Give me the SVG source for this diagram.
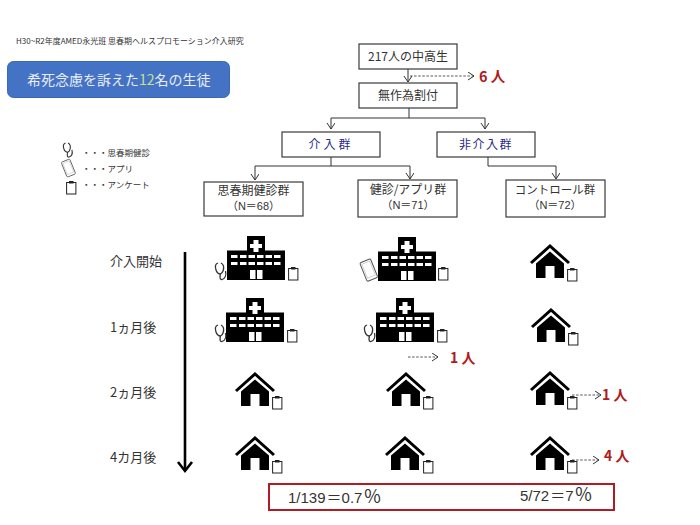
<svg xmlns="http://www.w3.org/2000/svg" width="700" height="525" viewBox="0 0 700 525">
<style>
text{font-family:"Noto Sans CJK JP","Liberation Sans",sans-serif;fill:#333}
.box{fill:#fff;stroke:#3a3a3a;stroke-width:1.2}
.l{font-size:12px;text-anchor:middle}
.m{font-size:11px;text-anchor:middle;font-family:"Liberation Sans","Noto Sans CJK JP",sans-serif}
.c{fill:none;stroke:#333;stroke-width:1}
.d{fill:none;stroke:#444;stroke-width:.9;stroke-dasharray:2.5 1.6}
.r{fill:#b01c1c;font-weight:bold;font-size:14px}
.t{font-size:13px}
.g{fill:#2a2a8a;font-size:12px;text-anchor:middle;letter-spacing:3px}
.s{font-size:8.500px}
.n{font-family:"Liberation Sans","Noto Sans CJK JP",sans-serif}
</style>
<defs>
<marker id="a" markerWidth="10" markerHeight="10" refX="7" refY="4" orient="auto" markerUnits="userSpaceOnUse"><path d="M1 0L7 4L1 8" fill="none" stroke="#333" stroke-width="1"/></marker>
<symbol id="hospital" overflow="visible"><path d="M0 14.500H20V0H38V14.500H58V44H0Z" fill="#000"/><path d="M26.500 4H31.500V8H35V12H31.500V16H26.500V12H23V8H26.500Z" fill="#fff"/>
<g fill="#fff"><rect x="4" y="19" width="6.500" height="3"/><rect x="13" y="19" width="6.500" height="3"/><rect x="21.500" y="19" width="6.500" height="3"/><rect x="30" y="19" width="6.500" height="3"/><rect x="38.500" y="19" width="6.500" height="3"/><rect x="47" y="19" width="6.500" height="3"/><rect x="4" y="26" width="6.500" height="3"/><rect x="13" y="26" width="6.500" height="3"/><rect x="21.500" y="26" width="6.500" height="3"/><rect x="30" y="26" width="6.500" height="3"/><rect x="38.500" y="26" width="6.500" height="3"/><rect x="47" y="26" width="6.500" height="3"/><rect x="23" y="34" width="5.500" height="9"/><rect x="30" y="34" width="5.500" height="9"/></g></symbol>
<symbol id="house" overflow="visible"><path d="M-19 18L0 1L19 18" fill="none" stroke="#000" stroke-width="3"/><path d="M0 6.500L14 18.500V33H4.500V21H-4.500V33H-14V18.500Z" fill="#000"/></symbol>
<symbol id="clip" overflow="visible"><rect x=".6" y="1.500" width="9.300" height="11.500" fill="#fff" stroke="#222" stroke-width="1"/><rect x="3" y="0" width="4.500" height="2.500" fill="#222"/></symbol>
<symbol id="steth" overflow="visible"><path d="M3 0C0 1 0 4 1 7C2 10 4 11 5.500 11C8 10 9 6 8.500 3C8 1 7 .5 6 0M5.500 11C4.500 14 5 17 7 16.500C10 15.500 11.500 12 10.500 8" fill="none" stroke="#333" stroke-width="1.300"/></symbol>
<symbol id="phone" overflow="visible"><g transform="rotate(-22 7 10)"><rect x="1" y="0" width="11.500" height="20" rx="1.500" fill="#fff" stroke="#555" stroke-width="1"/><rect x="2.500" y="2" width="8.500" height="15" fill="none" stroke="#aaa" stroke-width=".5"/></g></symbol>
</defs>
<g id="header"><text x="16" y="44" font-size="8">H30~R2年度AMED永光班 思春期ヘルスプロモーション介入研究</text></g>
<g id="banner"><rect x="7.500" y="61.500" width="222" height="36" rx="6" fill="#4472c4" stroke="#3d68b3"/><text x="27" y="85" font-size="14" style="fill:#e8edf7">希死念慮を訴えた<tspan style="fill:#c6e08a">12</tspan>名の生徒</text></g>
<g id="legend"><use href="#steth" transform="translate(63 143) scale(.85)"/><use href="#phone" transform="translate(63 160) scale(.8)"/><use href="#clip" x="66" y="181"/>
<text x="82" y="156" class="s">・・・思春期健診</text><text x="82" y="172" class="s">・・・アプリ</text><text x="82" y="188" class="s">・・・アンケート</text></g>
<g id="connectors">
<path class="c" d="M408 69V82" marker-end="url(#a)"/>
<path class="d" d="M410 76H474" marker-end="url(#a)"/>
<path class="c" d="M409 108V118M331 118H485"/>
<path class="c" d="M331 118V129" marker-end="url(#a)"/><path class="c" d="M485 118V129" marker-end="url(#a)"/>
<path class="c" d="M331 157V166M255 166H410"/>
<path class="c" d="M255 166V180" marker-end="url(#a)"/><path class="c" d="M410 166V179" marker-end="url(#a)"/>
<path class="c" d="M488 157V166H556V179" marker-end="url(#a)"/>
<path d="M185 252V470" stroke="#000" stroke-width="2.600" fill="none"/><path d="M178 462L185 471L192 462" stroke="#000" stroke-width="2.600" fill="none"/>
<path class="d" d="M408 357H438" marker-end="url(#a)"/>
<path class="d" d="M572 395H601" marker-end="url(#a)"/>
<path class="d" d="M572 460H599" marker-end="url(#a)"/>
</g>
<g id="n217"><rect class="box" x="359" y="44" width="98" height="25"/><text class="l" x="408" y="60.500">217人の中高生</text></g>
<g id="nrand"><rect class="box" x="359" y="83" width="98" height="25"/><text class="l" x="408" y="100">無作為割付</text></g>
<g id="n6"><text class="r" x="479" y="82" style="font-size:14.500px">6 人</text></g>
<g id="nint"><rect class="box" x="282" y="132" width="98" height="25"/><text class="g" x="331" y="149">介入群</text></g>
<g id="nnon"><rect class="box" x="437" y="132" width="98" height="25"/><text class="g" x="486" y="149" style="letter-spacing:1.500px">非介入群</text></g>
<g id="g1"><rect class="box" x="204" y="182" width="99" height="34"/><text class="l" x="253.500" y="195">思春期健診群</text><text class="m" x="253.500" y="210">（N＝68）</text></g>
<g id="g2"><rect class="box" x="358" y="180" width="99" height="37"/><text class="l" x="408" y="194">健診/アプリ群</text><text class="m" x="408" y="209">（N＝71）</text></g>
<g id="g3"><rect class="box" x="506" y="180" width="99" height="37"/><text class="l" x="555" y="194" style="font-size:11.500px">コントロール群</text><text class="m" x="555" y="209">（N＝72）</text></g>
<g id="times"><text class="t" x="110" y="266">介入開始</text><text class="t" x="110" y="332">1ヵ月後</text><text class="t" x="110" y="397">2ヵ月後</text><text class="t" x="110" y="462">4カ月後</text></g>
<g id="row1"><use href="#hospital" x="227" y="236"/><use href="#steth" x="215" y="263"/><use href="#clip" x="288" y="267"/>
<use href="#hospital" x="378" y="237"/><use href="#phone" x="362" y="260"/><use href="#clip" x="438" y="267"/>
<use href="#house" x="550" y="245"/><use href="#clip" x="567" y="268"/></g>
<g id="row2"><use href="#hospital" x="226" y="298"/><use href="#steth" x="215" y="325"/><use href="#clip" x="287" y="329"/>
<use href="#hospital" x="376" y="298"/><use href="#steth" x="364" y="325"/><use href="#clip" x="437" y="329"/>
<use href="#house" x="551" y="309"/><use href="#clip" x="568" y="332"/></g>
<g id="row3"><use href="#house" x="255" y="373"/><use href="#clip" x="272" y="396"/><use href="#house" x="406" y="373"/><use href="#clip" x="423" y="396"/><use href="#house" x="550" y="372"/><use href="#clip" x="567" y="396"/></g>
<g id="row4"><use href="#house" x="255" y="437"/><use href="#clip" x="272" y="460"/><use href="#house" x="405" y="437"/><use href="#clip" x="423" y="460"/><use href="#house" x="550" y="437"/><use href="#clip" x="567" y="460"/></g>
<g id="dropouts"><text class="r" x="450" y="363">1 人</text><text class="r" x="602" y="400">1 人</text><text class="r" x="604" y="461">4 人</text></g>
<g id="result"><rect x="269" y="484" width="345" height="26" fill="#fff" stroke="#b01c24" stroke-width="2"/><text class="n" x="288" y="503" font-size="15">1/139<tspan dx="1">＝</tspan>0.7<tspan font-size="18" dx="1">％</tspan></text><text class="n" x="520" y="501" font-size="15">5/72<tspan dx="1">＝</tspan>7<tspan font-size="18" dx="1">％</tspan></text></g>
</svg>
